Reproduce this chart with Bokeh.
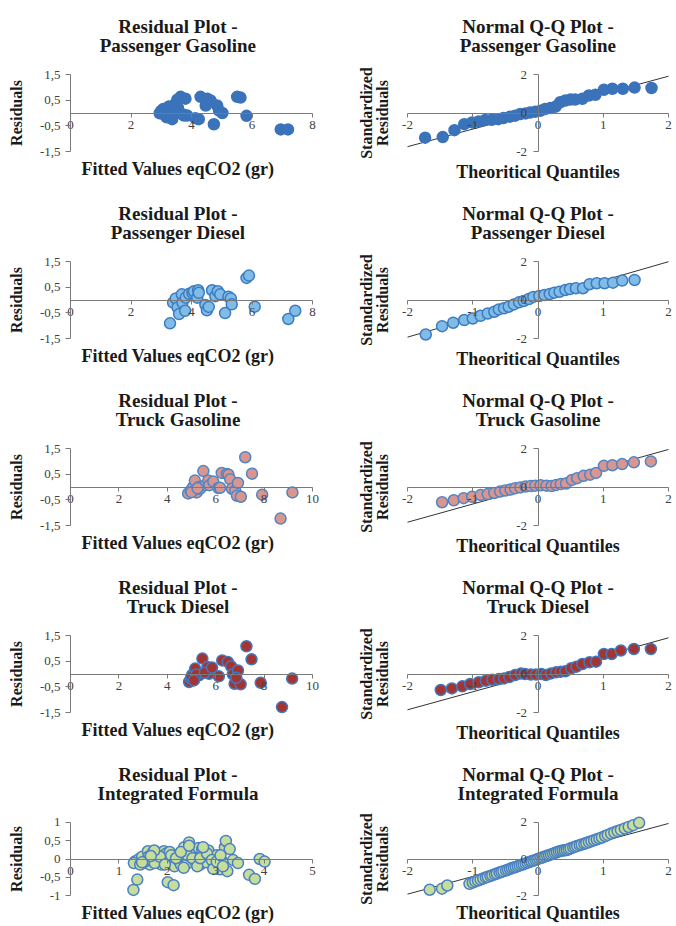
import numpy as np
from bokeh.plotting import figure
from bokeh.models import Range1d, FixedTicker, LinearAxis, CustomJSTickFormatter
from bokeh.layouts import column, row
from bokeh.embed import file_html
from bokeh.resources import INLINE

# ---------------- data ----------------
# Passenger Gasoline
pg_fit = [2.95, 3.07, 3.18, 3.25, 3.36, 3.42, 3.47, 3.53, 3.64, 3.80, 3.75, 3.86, 4.13, 4.24, 4.30, 4.52,
          4.47, 4.63, 4.74, 4.85, 4.91, 5.02, 5.51, 5.62, 5.82, 6.95, 7.19, 3.00, 3.30, 3.12, 3.55, 3.70]
pg_res = [-0.01, 0.16, -0.17, 0.25, -0.24, -0.04, 0.36, 0.52, 0.63, 0.56, -0.10, -0.10, -0.20, -0.24, 0.63, 0.56,
          0.29, 0.49, -0.44, 0.29, 0.09, 0.00, 0.63, 0.60, -0.11, -0.64, -0.64, 0.08, 0.10, -0.08, 0.20, -0.05]
pg_qx = [-1.73, -1.46, -1.28, -1.13, -1.01, -0.91, -0.81, -0.71, -0.61, -0.53, -0.43, -0.35, -0.27, -0.19, -0.12, -0.04,
         0.04, 0.11, 0.19, 0.27, 0.34, 0.42, 0.50, 0.57, 0.68, 0.78, 0.88, 1.01, 1.14, 1.30, 1.48, 1.74]
pg_qy = [-1.28, -1.25, -0.89, -0.58, -0.49, -0.44, -0.37, -0.35, -0.32, -0.26, -0.19, -0.14, -0.05, -0.02, 0.02, 0.07,
         0.12, 0.21, 0.26, 0.33, 0.56, 0.65, 0.70, 0.70, 0.74, 0.91, 0.95, 1.21, 1.26, 1.26, 1.32, 1.30]

# Passenger Diesel
pd_fit = [3.29, 3.39, 3.48, 3.54, 3.59, 3.68, 3.70, 3.79, 3.81, 3.92, 4.03, 4.08, 4.19, 4.22, 4.24, 4.46,
          4.51, 4.57, 4.68, 4.79, 4.87, 4.95, 5.11, 5.22, 5.30, 5.33, 5.82, 5.90, 6.09, 7.20, 7.43]
pd_res = [-0.91, -0.10, 0.06, -0.29, -0.55, 0.22, -0.10, -0.42, 0.09, 0.24, 0.28, 0.34, 0.09, 0.38, 0.28, -0.19,
          -0.40, -0.27, 0.38, 0.15, 0.34, 0.22, -0.51, 0.13, 0.06, -0.17, 0.86, 0.95, -0.26, -0.74, -0.42]
pd_qx = [-1.72, -1.47, -1.30, -1.13, -1.00, -0.88, -0.77, -0.67, -0.60, -0.52, -0.45, -0.37, -0.29, -0.22, -0.14, -0.07,
         0.02, 0.10, 0.18, 0.25, 0.33, 0.42, 0.49, 0.58, 0.69, 0.79, 0.90, 1.02, 1.15, 1.29, 1.48]
pd_qy = [-1.79, -1.36, -1.18, -1.04, -0.96, -0.82, -0.70, -0.61, -0.49, -0.43, -0.35, -0.23, -0.12, -0.05, 0.05, 0.16,
         0.21, 0.26, 0.31, 0.38, 0.43, 0.52, 0.57, 0.61, 0.61, 0.82, 0.87, 0.87, 0.90, 1.01, 1.04]

# Truck Gasoline
tg_fit = [4.86, 4.96, 5.07, 5.14, 5.21, 5.31, 5.35, 5.49, 5.56, 5.69, 5.74, 5.90, 6.11, 6.18, 6.25,
          6.46, 6.53, 6.60, 6.67, 6.81, 6.88, 6.92, 7.04, 7.22, 7.50, 7.92, 8.68, 9.17, 5.00, 5.25]
tg_res = [-0.25, -0.14, 0.00, 0.25, -0.21, 0.00, -0.07, 0.62, 0.07, 0.25, 0.07, 0.21, -0.04, -0.03, 0.55,
          0.51, 0.48, 0.30, -0.07, -0.14, -0.34, 0.16, -0.38, 1.16, 0.52, -0.30, -1.23, -0.21, -0.20, -0.05]
tg_qx = [-1.47, -1.29, -1.14, -1.01, -0.88, -0.77, -0.67, -0.58, -0.50, -0.42, -0.35, -0.27, -0.19, -0.11, -0.04, 0.04,
         0.13, 0.21, 0.28, 0.35, 0.43, 0.52, 0.60, 0.70, 0.80, 0.89, 1.01, 1.14, 1.29, 1.47, 1.73]
tg_qy = [-0.79, -0.69, -0.58, -0.51, -0.42, -0.37, -0.31, -0.24, -0.18, -0.13, -0.07, -0.02, 0.02, 0.05, 0.07, 0.09,
         0.07, 0.05, 0.11, 0.15, 0.18, 0.37, 0.46, 0.58, 0.64, 0.73, 1.10, 1.13, 1.19, 1.28, 1.33]

# Truck Diesel
td_fit = [4.90, 4.97, 5.03, 5.15, 5.31, 5.45, 5.66, 5.73, 6.13, 6.27, 6.50, 6.64, 6.71, 6.78,
          6.92, 7.03, 7.27, 7.48, 7.86, 8.74, 9.16, 5.00, 5.20, 5.55, 5.85, 6.85, 5.10]
td_res = [-0.31, -0.18, -0.03, 0.21, -0.05, 0.60, 0.27, 0.01, -0.09, 0.53, 0.47, 0.30, -0.01, -0.38,
          0.14, -0.40, 1.08, 0.57, -0.34, -1.29, -0.18, -0.10, -0.02, 0.05, 0.25, -0.15, -0.25]
td_qx = [-1.49, -1.32, -1.16, -1.04, -0.91, -0.80, -0.70, -0.60, -0.52, -0.44, -0.35, -0.26, -0.20, -0.11, -0.03, 0.05,
         0.12, 0.20, 0.28, 0.35, 0.42, 0.51, 0.59, 0.68, 0.79, 0.89, 1.01, 1.13, 1.27, 1.47, 1.73]
td_qy = [-0.83, -0.75, -0.64, -0.52, -0.43, -0.35, -0.30, -0.26, -0.23, -0.16, -0.05, 0.03, 0.00, -0.03, -0.03, 0.00,
         -0.05, 0.03, 0.09, 0.12, 0.14, 0.30, 0.38, 0.52, 0.61, 0.64, 1.04, 1.04, 1.22, 1.30, 1.30]

# Integrated Formula
iq_fit = [1.30, 1.38, 1.33, 1.41, 1.48, 1.51, 1.60, 1.61, 1.64, 1.71, 1.78, 1.81, 1.88, 1.93, 1.98,
          2.01, 2.05, 2.11, 2.13, 2.15, 2.21, 2.25, 2.28, 2.32, 2.35, 2.38, 2.42, 2.45, 2.48, 2.55,
          2.58, 2.63, 2.65, 2.68, 2.72, 2.77, 2.81, 2.85, 2.89, 2.95, 2.99, 3.02, 3.05, 3.09, 3.14,
          3.19, 3.21, 3.24, 3.29, 3.36, 3.46, 3.69, 3.81, 3.91, 4.01,
          1.31, 1.44, 1.54, 1.68, 1.74, 1.85, 2.08, 2.18, 2.34, 2.42, 2.52, 2.62, 2.68, 2.82, 2.92,
          2.95, 3.02, 3.10, 3.15, 1.73, 2.28, 2.45, 2.74, 1.95, 1.48, 1.66]
iq_res = [-0.84, -0.56, -0.07, -0.01, 0.06, -0.11, 0.21, 0.06, -0.15, 0.19, 0.10, -0.07, -0.15, 0.21, 0.15,
          -0.63, 0.19, -0.03, -0.71, -0.20, 0.10, -0.07, -0.15, 0.06, 0.32, 0.02, -0.11, 0.45, 0.19, 0.15,
          -0.07, 0.06, 0.30, -0.15, 0.27, 0.03, -0.09, 0.23, 0.06, -0.07, -0.15, 0.10, -0.20, -0.28, -0.07,
          0.32, 0.49, -0.33, 0.27, -0.03, -0.11, -0.43, -0.54, 0.00, -0.07,
          -0.11, -0.15, -0.07, -0.04, -0.11, 0.06, 0.10, 0.02, -0.24, 0.10, 0.02, -0.20, 0.02, 0.15, -0.03,
          -0.27, -0.07, 0.10, -0.20, 0.23, 0.19, 0.36, 0.32, -0.15, -0.09, 0.08]
iq_qx = [-1.66, -1.47, -1.39,
         -1.05, -1.00, -0.96, -0.92, -0.88, -0.84, -0.80, -0.77, -0.73, -0.70, -0.66, -0.63, -0.59, -0.56, -0.53,
         -0.49, -0.46, -0.43, -0.40, -0.37, -0.34, -0.31, -0.28, -0.25, -0.22, -0.19, -0.16, -0.13, -0.10, -0.07,
         -0.04, -0.01, 0.02, 0.05, 0.08, 0.11, 0.14, 0.17, 0.20, 0.23, 0.26, 0.29, 0.32, 0.35, 0.38, 0.41, 0.44,
         0.47, 0.50, 0.54, 0.57, 0.60, 0.64, 0.67, 0.71, 0.74, 0.78, 0.82, 0.86, 0.90, 0.94, 0.98, 1.03, 1.07,
         1.12, 1.17, 1.22, 1.27, 1.33, 1.39, 1.46, 1.55]
iq_qy = [-1.67, -1.61, -1.44,
         -1.35, -1.28, -1.22, -1.17, -1.12, -1.06, -1.00, -0.97, -0.92, -0.88, -0.83, -0.79, -0.74, -0.70, -0.66,
         -0.62, -0.58, -0.54, -0.50, -0.46, -0.43, -0.39, -0.35, -0.31, -0.28, -0.24, -0.20, -0.16, -0.12, -0.09,
         -0.05, -0.01, 0.03, 0.07, 0.10, 0.14, 0.18, 0.21, 0.25, 0.29, 0.33, 0.37, 0.41, 0.44, 0.46, 0.47, 0.49,
         0.53, 0.58, 0.63, 0.67, 0.71, 0.75, 0.79, 0.83, 0.87, 0.92, 0.97, 1.02, 1.07, 1.12, 1.17, 1.25, 1.31,
         1.38, 1.45, 1.52, 1.58, 1.66, 1.74, 1.84, 1.97]

# Q-Q reference lines (intercept, slope)
qq_intercept = [0.08, 0.03, 0.06, 0.01, 0.01]
qq_slope = [0.915, 0.98, 0.945, 0.935, 0.96]

group_names = ["Passenger Gasoline", "Passenger Diesel", "Truck Gasoline", "Truck Diesel", "Integrated Formula"]
fill_colors = ["#3b73ba", "#80bce6", "#d9958f", "#a33432", "#c6dd9c"]
line_colors = ["#3b73ba", "#3c7cc3", "#4f86c6", "#3f79c1", "#4a81c4"]

res_x_ranges = [(0, 8), (0, 8), (0, 10), (0, 10), (0, 5)]
res_x_ticks = [[0, 2, 4, 6, 8], [0, 2, 4, 6, 8], [0, 2, 4, 6, 8, 10], [0, 2, 4, 6, 8, 10], [0, 1, 2, 3, 4, 5]]
res_y_ranges = [(-1.5, 1.5)] * 4 + [(-1, 1)]
res_y_ticks = [[-1.5, -0.5, 0.5, 1.5]] * 4 + [[-1, -0.5, 0, 0.5, 1]]
qq_range = (-2, 2)
qq_x_ticks = [-2, -1, 0, 1, 2]
qq_y_ticks = [-2, 0, 2]

fits = [pg_fit, pd_fit, tg_fit, td_fit, iq_fit]
residuals = [pg_res, pd_res, tg_res, td_res, iq_res]
q_theo = [pg_qx, pd_qx, tg_qx, td_qx, iq_qx]
q_std = [pg_qy, pd_qy, tg_qy, td_qy, iq_qy]

# ---------------- styling / layout ----------------
FONT = "Liberation Serif"
TXT = "#1a1a1a"
TICK_TXT = "#404040"
AXIS = "#7a7a7a"
TICK_SIZE = "13px"

# residual panels: axis length and padding inside the frame (px)
R_INNER_W, R_PAD_L, R_PAD_R = 242, 34, 7
# QQ panels
Q_INNER_W, Q_PAD_L, Q_PAD_R = 261, 6, 6
INNER_H, PAD_V = 77, 7
FRAME_H = INNER_H + 2 * PAD_V

LEFT_W, LEFT_BL = 330, 36
RIGHT_W, RIGHT_BL = 344, 71
ROW_H = [191, 187, 187, 187, 173]
ROW_TOP = [67, 63, 63, 63, 63]


def padded(lo, hi, inner_px, pad_lo, pad_hi):
    upp = (hi - lo) / inner_px
    return (lo - pad_lo * upp, hi + pad_hi * upp)


def comma_formatter():
    return CustomJSTickFormatter(code="return tick.toString().replace('.', ',');")


def label_axis(p, text, loc, size, standoff, line_height=1.0):
    ax = LinearAxis(ticker=FixedTicker(ticks=[]), axis_line_color=None,
                    major_tick_line_color=None, minor_tick_line_color=None,
                    major_tick_in=0, major_tick_out=0, minor_tick_in=0, minor_tick_out=0,
                    major_label_standoff=0, major_label_text_font_size="0px",
                    axis_label=text, axis_label_standoff=standoff,
                    axis_label_text_font=FONT, axis_label_text_font_style="bold",
                    axis_label_text_font_size=size, axis_label_text_color=TXT,
                    axis_label_text_line_height=line_height)
    p.add_layout(ax, loc)


def style_axis(ax, ticks, bounds, tick_out, standoff):
    ax.ticker = FixedTicker(ticks=ticks)
    ax.bounds = bounds
    ax.fixed_location = 0
    ax.formatter = comma_formatter()
    ax.axis_line_color = AXIS
    ax.axis_line_width = 1
    ax.major_tick_line_color = AXIS
    ax.major_tick_in = 0
    ax.major_tick_out = tick_out
    ax.minor_tick_line_color = None
    ax.major_label_standoff = standoff
    ax.major_label_text_font = FONT
    ax.major_label_text_font_size = TICK_SIZE
    ax.major_label_text_color = TICK_TXT


def base_figure(width, height, xr, yr, bl, br, top, bottom):
    p = figure(width=width, height=height, x_range=Range1d(*xr), y_range=Range1d(*yr),
               output_backend="svg", toolbar_location=None,
               min_border_left=bl, min_border_right=br, min_border_top=top, min_border_bottom=bottom)
    p.xgrid.grid_line_color = None
    p.ygrid.grid_line_color = None
    p.outline_line_color = None
    p.background_fill_color = "white"
    p.border_fill_color = "white"
    return p


rows = []
for i, name in enumerate(group_names):
    h = ROW_H[i]
    top = ROW_TOP[i]
    bottom = h - top - FRAME_H
    last = (i == len(group_names) - 1)

    # ---- residual plot ----
    xr = padded(*res_x_ranges[i], R_INNER_W, R_PAD_L, R_PAD_R)
    yr = padded(*res_y_ranges[i], INNER_H, PAD_V, PAD_V)
    r_br = LEFT_W - LEFT_BL - (R_INNER_W + R_PAD_L + R_PAD_R)
    r = base_figure(LEFT_W, h, xr, yr, LEFT_BL, r_br, top, bottom)
    style_axis(r.xaxis[0], res_x_ticks[i], res_x_ranges[i], 4, 4)
    style_axis(r.yaxis[0], res_y_ticks[i], res_y_ranges[i], 5, 5)
    label_axis(r, "Residual Plot -\n" + name, "above", "19px", 12, 0.9)
    label_axis(r, "Residuals", "left", "16px", 12)
    label_axis(r, "Fitted Values eqCO2 (gr)", "below", "18px", 0)
    r.scatter(fits[i], residuals[i], size=11, fill_color=fill_colors[i],
              line_color=line_colors[i], line_width=1.5)

    # ---- normal Q-Q plot ----
    qxr = padded(*qq_range, Q_INNER_W, Q_PAD_L, Q_PAD_R)
    qyr = padded(*qq_range, INNER_H, PAD_V, PAD_V)
    q_br = RIGHT_W - RIGHT_BL - (Q_INNER_W + Q_PAD_L + Q_PAD_R)
    q = base_figure(RIGHT_W, h, qxr, qyr, RIGHT_BL, q_br, top, bottom)
    style_axis(q.xaxis[0], qq_x_ticks, qq_range, 4, 4)
    style_axis(q.yaxis[0], qq_y_ticks, qq_range, 5, 6)
    label_axis(q, "Normal Q-Q Plot -\n" + name, "above", "19px", 12, 0.9)
    label_axis(q, "Standardized\nResiduals", "left", "16px", 11, 0.9)
    label_axis(q, "Theoritical Quantiles", "below", "18px", 0 if last else 3)
    lx = np.array(qq_range, dtype=float)
    q.line(lx, qq_intercept[i] + qq_slope[i] * lx, line_color="#333333", line_width=1)
    q.scatter(q_theo[i], q_std[i], size=11, fill_color=fill_colors[i],
              line_color=line_colors[i], line_width=1.5)

    rows.append(row(r, q))

layout = column(*rows)
open("out.html", "w").write(file_html(layout, INLINE))
